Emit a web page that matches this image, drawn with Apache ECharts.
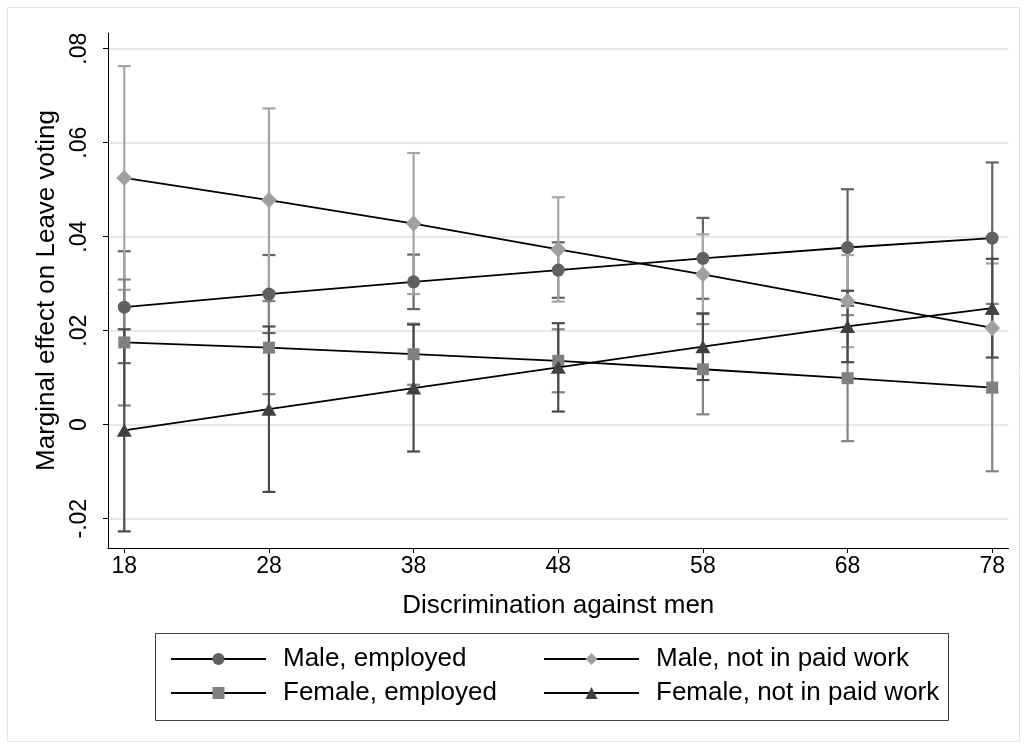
<!DOCTYPE html>
<html><head><meta charset="utf-8">
<script src="https://cdn.jsdelivr.net/npm/echarts@6/dist/echarts.min.js"></script>
<style>html,body{margin:0;padding:0;background:#fff}#c{width:1027px;height:749px}</style>
</head><body><div id="c"></div>
<script>
// ---- data ----
const xValues = [18, 28, 38, 48, 58, 68, 78];
const xTicks = [18, 28, 38, 48, 58, 68, 78];
const yTicks = [-0.02, 0, 0.02, 0.04, 0.06, 0.08];
const yTickLabels = ['-.02', '0', '.02', '.04', '.06', '.08'];

const seriesNames = ['Male, employed', 'Male, not in paid work', 'Female, employed', 'Female, not in paid work'];

const maleEmployed   = [0.0250, 0.0278, 0.0304, 0.0329, 0.0354, 0.0377, 0.0397];
const maleEmployedLo = [0.0131, 0.0195, 0.0246, 0.0270, 0.0268, 0.0253, 0.0236];
const maleEmployedHi = [0.0369, 0.0361, 0.0362, 0.0388, 0.0440, 0.0501, 0.0558];

const maleNotPaid   = [0.0525, 0.0478, 0.0428, 0.0373, 0.0320, 0.0263, 0.0206];
const maleNotPaidLo = [0.0287, 0.0283, 0.0278, 0.0262, 0.0235, 0.0165, 0.0069];
const maleNotPaidHi = [0.0763, 0.0673, 0.0578, 0.0484, 0.0405, 0.0361, 0.0343];

const femaleEmployed   = [0.0175, 0.0164, 0.0150, 0.0136, 0.0118, 0.0099, 0.0079];
const femaleEmployedLo = [0.0041, 0.0065, 0.0085, 0.0069, 0.0022, -0.0035, -0.0099];
const femaleEmployedHi = [0.0309, 0.0263, 0.0215, 0.0203, 0.0214, 0.0233, 0.0257];

const femaleNotPaid   = [-0.0012, 0.0033, 0.0078, 0.0122, 0.0166, 0.0209, 0.0248];
const femaleNotPaidLo = [-0.0227, -0.0143, -0.0057, 0.0028, 0.0095, 0.0133, 0.0143];
const femaleNotPaidHi = [0.0203, 0.0209, 0.0213, 0.0216, 0.0237, 0.0285, 0.0353];

// ---- styling ----
const FONT = '"Liberation Sans", Arial, sans-serif';
const groups = [
  {name: seriesNames[0], v: maleEmployed, lo: maleEmployedLo, hi: maleEmployedHi, color: '#606060', ciColor: '#646464', symbol: 'circle', size: 13},
  {name: seriesNames[1], v: maleNotPaid, lo: maleNotPaidLo, hi: maleNotPaidHi, color: '#a0a0a0', ciColor: '#a6a6a6', symbol: 'diamond', size: 16},
  {name: seriesNames[2], v: femaleEmployed, lo: femaleEmployedLo, hi: femaleEmployedHi, color: '#808080', ciColor: '#848484', symbol: 'rect', size: 12},
  {name: seriesNames[3], v: femaleNotPaid, lo: femaleNotPaidLo, hi: femaleNotPaidHi, color: '#404040', ciColor: '#4a4a4a', symbol: 'triangle', size: [15, 13]}
];

function ciSeries(g, idx) {
  return {
    type: 'custom', name: 'ci' + idx, silent: true, z: 2 + idx * 0.01,
    data: xValues.map((x, i) => [x, g.lo[i], g.hi[i]]),
    encode: {x: 0, y: [1, 2]},
    renderItem(params, api) {
      const x = api.value(0);
      const p1 = api.coord([x, api.value(1)]);
      const p2 = api.coord([x, api.value(2)]);
      const w = 6.5;
      const st = {stroke: g.ciColor, lineWidth: 2.2};
      return {type: 'group', children: [
        {type: 'line', shape: {x1: p1[0], y1: p1[1], x2: p2[0], y2: p2[1]}, style: st},
        {type: 'line', shape: {x1: p1[0] - w, y1: p1[1], x2: p1[0] + w, y2: p1[1]}, style: st},
        {type: 'line', shape: {x1: p2[0] - w, y1: p2[1], x2: p2[0] + w, y2: p2[1]}, style: st}
      ]};
    }
  };
}

function lineSeries(g, idx) {
  return {
    type: 'line', name: g.name, z: 5 + idx * 0.01,
    data: xValues.map((x, i) => [x, g.v[i]]),
    symbol: g.symbol, symbolSize: g.size, showSymbol: true,
    itemStyle: {color: g.color, opacity: 1},
    lineStyle: {color: '#000', width: 1.8},
    emphasis: {disabled: true},
    animation: false
  };
}

const series = [];
groups.forEach((g, i) => series.push(ciSeries(g, i)));
groups.forEach((g, i) => series.push(lineSeries(g, i)));

const legendText = {fontFamily: FONT, fontSize: 26, color: '#000', lineHeight: 26, padding: [0, 0, 0, 12]};

const chart = echarts.init(document.getElementById('c'), null, {renderer: 'canvas'});
chart.setOption({
  animation: false,
  backgroundColor: '#fff',
  grid: {left: 108, right: 18.5, top: 33, bottom: 201},
  xAxis: {
    type: 'value', min: 16.875, max: 79.125,
    name: 'Discrimination against men', nameLocation: 'middle', nameGap: 45,
    nameTextStyle: {fontFamily: FONT, fontSize: 26, color: '#000'},
    axisLine: {show: true, onZero: false, lineStyle: {color: '#000', width: 1}},
    axisTick: {show: true, length: 5, customValues: xTicks, lineStyle: {color: '#000'}},
    axisLabel: {customValues: xTicks, margin: 7, fontFamily: FONT, fontSize: 23, color: '#000'},
    splitLine: {show: false}
  },
  yAxis: {
    type: 'value', min: -0.02623, max: 0.08334,
    name: 'Marginal effect on Leave voting', nameLocation: 'middle', nameGap: 40,
    nameTextStyle: {fontFamily: FONT, fontSize: 26, color: '#000'},
    axisLine: {show: true, onZero: false, lineStyle: {color: '#000', width: 1}},
    axisTick: {show: true, length: 5, customValues: yTicks, lineStyle: {color: '#000'}},
    axisLabel: {customValues: yTicks, rotate: 90, margin: 17, fontFamily: FONT, fontSize: 23, color: '#000',
      formatter: v => { const i = yTicks.findIndex(t => Math.abs(t - v) < 1e-9); return i >= 0 ? yTickLabels[i] : ''; }},
    splitLine: {show: true, lineStyle: {color: '#e8e8e8', width: 2}}
  },
  legend: [
    {orient: 'vertical', left: 165, top: 641, itemWidth: 95, itemHeight: 15, itemGap: 8,
     data: [seriesNames[0], seriesNames[2]], textStyle: legendText, selectedMode: false},
    {orient: 'vertical', left: 538, top: 641, itemWidth: 95, itemHeight: 15, itemGap: 8,
     data: [seriesNames[1], seriesNames[3]], textStyle: legendText, selectedMode: false}
  ],
  graphic: [
    {type: 'rect', shape: {x: 7.5, y: 7.5, width: 1012, height: 734}, style: {fill: 'none', stroke: '#e4e4e4', lineWidth: 1}, silent: true, z: -1},
    {type: 'rect', shape: {x: 155.5, y: 633.5, width: 793, height: 87}, style: {fill: 'none', stroke: '#404040', lineWidth: 1}, silent: true}
  ],
  series: series
});
</script></body></html>
